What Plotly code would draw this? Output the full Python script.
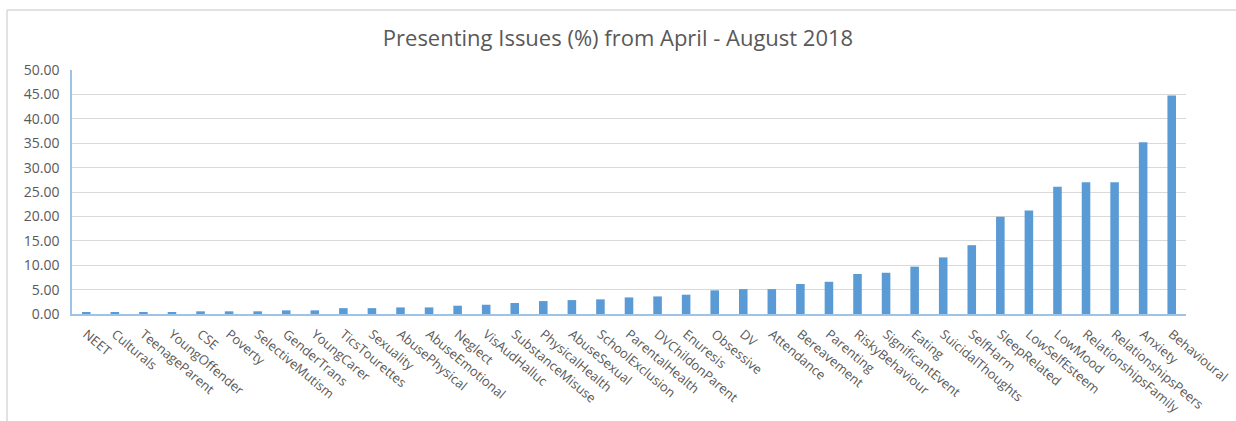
import plotly.graph_objects as go

categories = ["NEET", "Culturals", "TeenageParent", "YoungOffender", "CSE", "Poverty",
              "SelectiveMutism", "GenderTrans", "YoungCarer", "TicsTourettes", "Sexuality",
              "AbusePhysical", "AbuseEmotional", "Neglect", "VisAudHalluc", "SubstanceMisuse",
              "PhysicalHealth", "AbuseSexual", "SchoolExclusion", "ParentalHealth",
              "DVChildonParent", "Enuresis", "Obsessive", "DV", "Attendance", "Bereavement",
              "Parenting", "RiskyBehaviour", "SignificantEvent", "Eating", "SuicidalThoughts",
              "SelfHarm", "SleepRelated", "LowSelfEsteem", "LowMood", "RelationshipsFamily",
              "RelationshipsPeers", "Anxiety", "Behavioural"]
values = [0.27, 0.27, 0.27, 0.27, 0.55, 0.55, 0.55, 0.75, 0.75, 1.2, 1.2,
          1.35, 1.35, 1.7, 1.9, 2.25, 2.65, 2.85, 3.0, 3.4,
          3.6, 3.95, 4.85, 5.1, 5.1, 6.15,
          6.6, 8.2, 8.45, 9.7, 11.6,
          14.1, 19.95, 21.2, 26.1, 27.0,
          27.0, 35.2, 44.8]
y_ticks = [0, 5, 10, 15, 20, 25, 30, 35, 40, 45, 50]
y_tick_labels = ["%.2f" % v for v in y_ticks]

title_text = "Presenting Issues (%) from April - August 2018"

fig = go.Figure()
fig.add_trace(go.Bar(
    x=categories, y=values,
    marker=dict(color="#5B9BD5", line=dict(width=0)),
    hoverinfo="x+y",
))

font_family = "Open Sans, Segoe UI, Calibri, sans-serif"
text_color = "#595959"

fig.update_layout(
    width=1236, height=421,
    paper_bgcolor="white", plot_bgcolor="white",
    margin=dict(l=72, r=50, t=70, b=107, autoexpand=False),
    bargap=0.70,
    showlegend=False,
    title=dict(text=title_text, x=0.5, xanchor="center", y=1 - 38 / 421, yanchor="middle",
               font=dict(family=font_family, size=22, color=text_color)),
    font=dict(family=font_family, color=text_color),
    xaxis=dict(
        type="category", tickangle=40, tickfont=dict(size=13, color=text_color),
        showline=True, linecolor="#9DC3E6", linewidth=1.5, showgrid=False,
        ticks="", ticklen=0, range=[-0.5, len(categories) - 0.5], automargin=False,
        ticklabelstandoff=6,
    ),
    yaxis=dict(
        range=[0, 50], tickvals=y_ticks, ticktext=y_tick_labels,
        tickfont=dict(size=14, color=text_color),
        showgrid=True, gridcolor="#D9D9D9", gridwidth=1,
        showline=True, linecolor="#9DC3E6", linewidth=1.5,
        zeroline=False, ticks="", ticklabelstandoff=8, automargin=False,
    ),
    shapes=[
        dict(type="line", xref="paper", yref="paper",
             x0=-65 / 1114, x1=1.2, y0=1 + 60 / 244, y1=1 + 60 / 244,
             line=dict(color="#D9D9D9", width=1.5)),
        dict(type="line", xref="paper", yref="paper",
             x0=-65 / 1114, x1=-65 / 1114, y0=1 + 60 / 244, y1=-0.6,
             line=dict(color="#D9D9D9", width=1.5)),
    ],
)

fig.write_html(
    "out.html",
    config={"displayModeBar": False},
    post_script="document.body.style.margin='0';document.body.style.overflow='hidden';",
)
